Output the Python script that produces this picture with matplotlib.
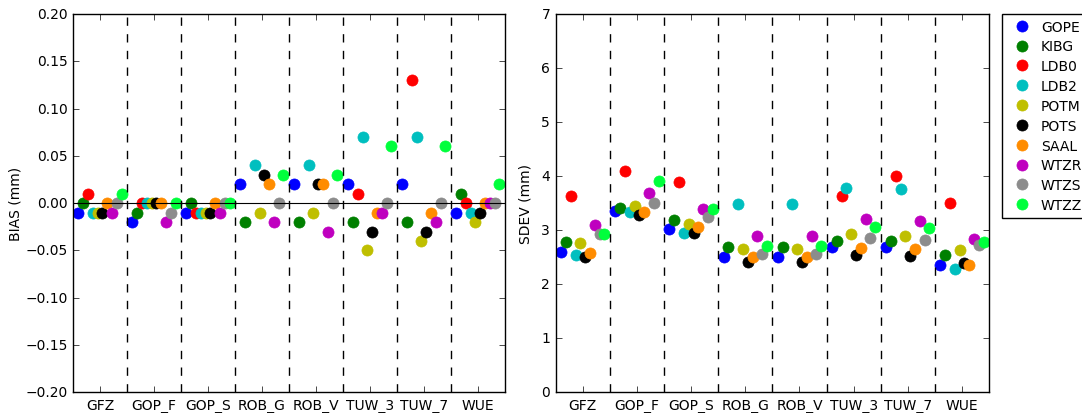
import numpy as np
import matplotlib
matplotlib.use('Agg')
import matplotlib.pyplot as plt

plt.style.use('classic')

#%% data
solutions = ['GFZ', 'GOP_F', 'GOP_S', 'ROB_G', 'ROB_V', 'TUW_3', 'TUW_7', 'WUE']
stations = ['GOPE', 'KIBG', 'LDB0', 'LDB2', 'POTM', 'POTS', 'SAAL', 'WTZR', 'WTZS', 'WTZZ']
colors = ['b', 'g', 'r', 'c', 'y', 'k', '#ff8c00', 'm', '#8c8c8c', '#00ff3c']

nan = np.nan
# bias per station (rows) and solution (columns)
bias = {
    'GOPE': [-0.01, -0.02, -0.01, 0.02, 0.02, 0.02, 0.02, -0.01],
    'KIBG': [0.00, -0.01, 0.00, -0.02, -0.02, -0.02, -0.02, 0.01],
    'LDB0': [0.01, 0.00, -0.01, nan, nan, 0.01, 0.13, 0.00],
    'LDB2': [-0.01, 0.00, -0.01, 0.04, 0.04, 0.07, 0.07, -0.01],
    'POTM': [-0.01, 0.00, -0.01, -0.01, -0.01, -0.05, -0.04, -0.02],
    'POTS': [-0.01, 0.00, -0.01, 0.03, 0.02, -0.03, -0.03, -0.01],
    'SAAL': [0.00, 0.00, 0.00, 0.02, 0.02, -0.01, -0.01, 0.00],
    'WTZR': [-0.01, -0.02, -0.01, -0.02, -0.03, -0.01, -0.02, 0.00],
    'WTZS': [0.00, -0.01, 0.00, 0.00, 0.00, 0.00, 0.00, 0.00],
    'WTZZ': [0.01, 0.00, 0.00, 0.03, 0.03, 0.06, 0.06, 0.02],
}
sdev = {
    'GOPE': [2.60, 3.36, 3.02, 2.51, 2.51, 2.69, 2.69, 2.36],
    'KIBG': [2.78, 3.41, 3.19, 2.69, 2.69, 2.80, 2.80, 2.54],
    'LDB0': [3.64, 4.09, 3.89, nan, nan, 3.64, 4.01, 3.51],
    'LDB2': [2.54, 3.33, 2.95, 3.49, 3.49, 3.78, 3.77, 2.28],
    'POTM': [2.76, 3.44, 3.12, 2.65, 2.65, 2.93, 2.90, 2.63],
    'POTS': [2.50, 3.28, 2.95, 2.41, 2.41, 2.54, 2.52, 2.40],
    'SAAL': [2.58, 3.33, 3.06, 2.51, 2.50, 2.67, 2.65, 2.36],
    'WTZR': [3.09, 3.69, 3.40, 2.90, 2.90, 3.20, 3.17, 2.84],
    'WTZS': [2.92, 3.51, 3.25, 2.56, 2.56, 2.85, 2.81, 2.72],
    'WTZZ': [2.93, 3.91, 3.40, 2.70, 2.70, 3.06, 3.04, 2.78],
}

#%% plot
fig = plt.figure(figsize=(10.82, 4.14), dpi=100, facecolor='w')
ax1 = fig.add_axes([0.0675, 0.05, 0.399, 0.9138])
ax2 = fig.add_axes([0.5136, 0.05, 0.4005, 0.9138])

x = np.arange(len(solutions))
offsets = np.linspace(-0.4, 0.4, len(stations))

for ax, data in [(ax1, bias), (ax2, sdev)]:
    for k, st in enumerate(stations):
        ax.plot(x + offsets[k], data[st], 'o', color=colors[k], mec=colors[k],
                ms=8, label=st)
    for b in np.arange(0.5, len(solutions) - 1, 1.0):
        ax.axvline(b, color='k', ls='--', lw=1)
    ax.set_xlim(-0.5, len(solutions) - 0.5)
    ax.set_xticks(x)
    ax.set_xticklabels(solutions)
    ax.tick_params(labelsize=10)

ax1.axhline(0, color='k', lw=0.8)
ax1.set_ylim(-0.2, 0.2)
ax1.set_yticks(np.arange(-0.2, 0.201, 0.05))
ax1.set_ylabel('BIAS (mm)', fontsize=10, labelpad=2)

ax2.set_ylim(0, 7)
ax2.set_ylabel('SDEV (mm)', fontsize=10, labelpad=6)

ax2.legend(loc='upper left', bbox_to_anchor=(1.03, 1.0), numpoints=1,
           fontsize=10, borderaxespad=0., handletextpad=0.4,
           labelspacing=0.42)

fig.savefig('out.png', dpi=100, facecolor='w')
